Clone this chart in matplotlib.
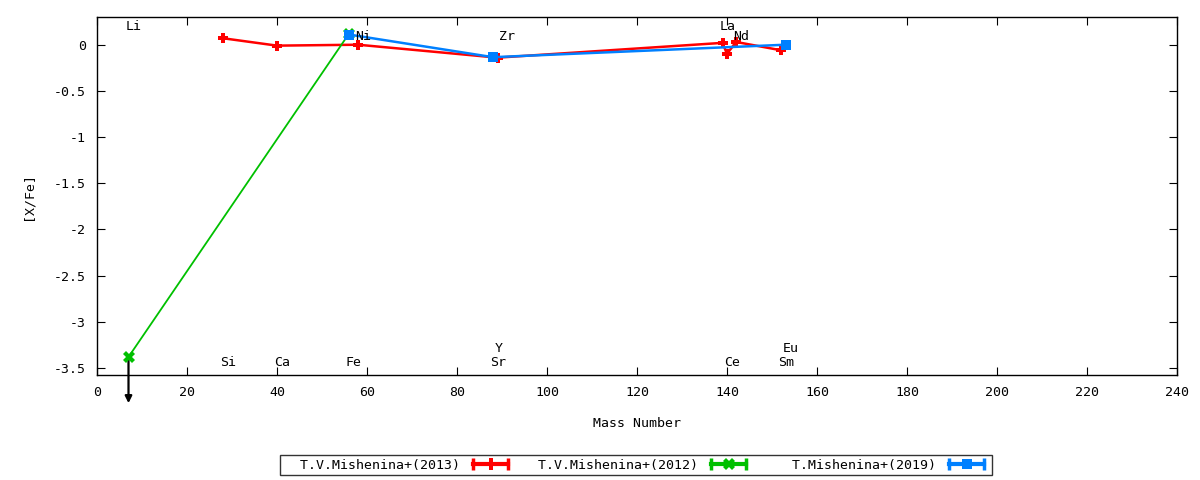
import matplotlib
matplotlib.use("Agg")
import matplotlib.pyplot as plt
from matplotlib.lines import Line2D
from matplotlib.legend_handler import HandlerLine2D, HandlerTuple
from matplotlib.ticker import FuncFormatter, MultipleLocator

# ---- data ----
red_x = [28, 40, 58, 89, 139, 140, 142, 152]
red_y = [0.07, -0.01, 0.0, -0.14, 0.02, -0.10, 0.03, -0.06]
green_x = [7, 56]
green_y = [-3.38, 0.12]
blue_x = [56, 88, 153]
blue_y = [0.11, -0.135, 0.0]
series_labels = ["T.V.Mishenina+(2013)", "T.V.Mishenina+(2012)", "T.Mishenina+(2019)"]

elem_names = ["Li", "Si", "Ca", "Fe", "Ni", "Zr", "Y", "Sr", "La", "Nd", "Ce", "Sm", "Eu"]
elem_x = [7, 28, 40, 56, 58, 90, 89, 88, 139, 142, 140, 152, 153]
elem_y = [0.195, -3.445, -3.445, -3.445, 0.087, 0.087, -3.29, -3.445, 0.195, 0.087, -3.445, -3.445, -3.29]

li_limit_x = 7
li_limit_from = -3.38
li_limit_to = -3.88

FS = 9.5
plt.rcParams['font.family'] = ['DejaVu Sans Mono']
plt.rcParams['font.size'] = FS
plt.rcParams['axes.unicode_minus'] = False

fig = plt.figure(figsize=(12, 4.8), dpi=100)
ax = fig.add_axes([97/1200, 1-375/480, (1177-97)/1200, (375-17)/480])

RED = '#ff0000'
GREEN = '#00c000'
BLUE = '#0080ff'

ax.plot(red_x, red_y, color=RED, lw=1.8, marker='P', ms=7, mew=0, zorder=3)
ax.plot(green_x, green_y, color=GREEN, lw=1.3, marker='X', ms=8, mew=0, zorder=3)
ax.plot(blue_x, blue_y, color=BLUE, lw=1.8, marker='s', ms=7, mew=0, zorder=4)

ax.annotate('', xy=(li_limit_x, li_limit_to), xytext=(li_limit_x, li_limit_from),
            arrowprops=dict(arrowstyle='-|>', color='black', lw=1.6, mutation_scale=10,
                            shrinkA=0, shrinkB=0),
            annotation_clip=False, zorder=2)

for n, x, y in zip(elem_names, elem_x, elem_y):
    ax.text(x - 0.7, y, n, ha='left', va='center', fontsize=FS, zorder=5)

ax.set_xlim(0, 240)
ax.set_ylim(-3.575, 0.3)
ax.xaxis.set_major_locator(MultipleLocator(20))
ax.yaxis.set_major_locator(MultipleLocator(0.5))
ax.yaxis.set_major_formatter(FuncFormatter(lambda v, p: '%g' % v))
ax.xaxis.set_major_formatter(FuncFormatter(lambda v, p: '%g' % v))
ax.tick_params(direction='in', top=True, right=True, length=6, width=0.8, labelsize=FS)
ax.tick_params(axis='x', pad=8)
ax.tick_params(axis='y', pad=8)
for s in ax.spines.values():
    s.set_linewidth(1.0)

ax.set_xlabel('Mass Number', fontsize=FS, labelpad=13)
ax.set_ylabel('[X/Fe]', fontsize=FS, labelpad=14)

# legend handles: line with end caps and central marker
def make_handle(color, marker, ms):
    caps = Line2D([], [], color=color, lw=3, marker='|', ms=9, mew=2.5)
    mid = Line2D([], [], color=color, lw=3, marker=marker, ms=ms, mew=0, linestyle='None')
    return (caps, mid), caps, mid

h1, c1, m1 = make_handle(RED, 'P', 8)
h2, c2, m2 = make_handle(GREEN, 'X', 8)
h3, c3, m3 = make_handle(BLUE, 's', 7)
hmap = {tuple: HandlerTuple(ndivide=1)}
for c in (c1, c2, c3):
    hmap[c] = HandlerLine2D(numpoints=2)
for m in (m1, m2, m3):
    hmap[m] = HandlerLine2D(numpoints=1)

# gnuplot right-justifies key text; pad with spaces (monospace font)
width = max(len(s) for s in series_labels) + 2
leg_labels = [s.rjust(width) for s in series_labels]

leg = fig.legend([h1, h2, h3], leg_labels, handler_map=hmap,
                 loc='center', bbox_to_anchor=(636/1200, 1-465/480), ncol=3,
                 markerfirst=False, frameon=True, fancybox=False, fontsize=FS,
                 handlelength=3.3, columnspacing=0.7, handletextpad=0.7,
                 borderpad=0.25, borderaxespad=0)
leg.get_frame().set_edgecolor('black')
leg.get_frame().set_linewidth(1.0)

fig.savefig('out.png', dpi=100)
